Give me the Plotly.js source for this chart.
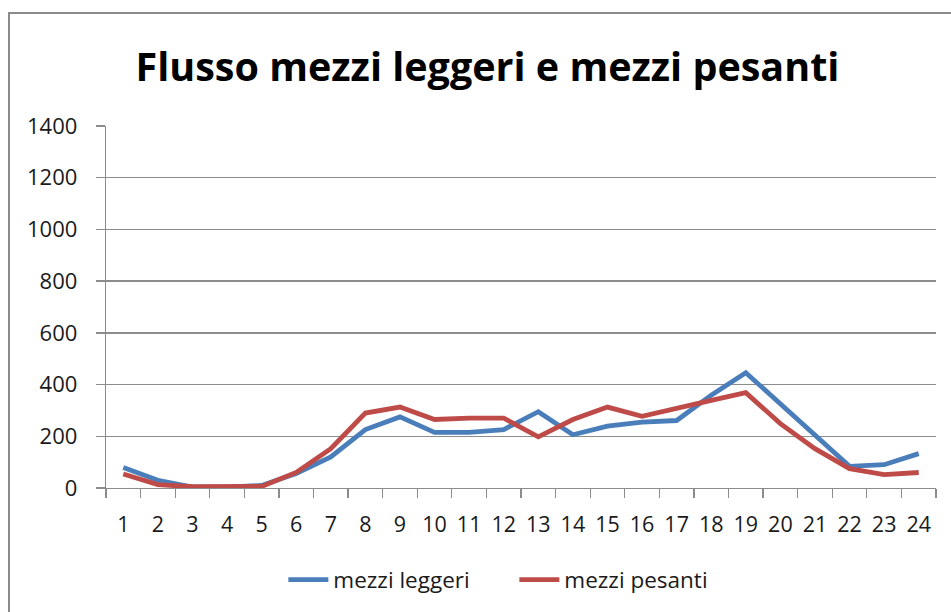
<!DOCTYPE html>
<html>
<head>
<meta charset="utf-8">
<script src="https://cdn.plot.ly/plotly-3.0.1.min.js"></script>
<style>
html,body{margin:0;padding:0;background:#fff;overflow:hidden;}
#frame{position:absolute;left:8px;top:12px;width:960px;height:620px;border-top:2px solid #8a8a8a;border-left:2px solid #8a8a8a;pointer-events:none;z-index:5;}
#chart{position:absolute;left:0;top:0;width:951px;height:612px;}
</style>
</head>
<body>
<div id="chart"></div>
<div id="frame"></div>
<script>
const hours = ["1","2","3","4","5","6","7","8","9","10","11","12","13","14","15","16","17","18","19","20","21","22","23","24"];
const mezziLeggeri = [79, 30, 3, 3, 10, 56, 120, 226, 275, 215, 215, 226, 295, 206, 239, 255, 261, 359, 446, 326, 210, 84, 90, 133];
const mezziPesanti = [54, 13, 5, 5, 6, 60, 152, 290, 313, 265, 270, 270, 198, 265, 313, 277, 310, 339, 369, 249, 152, 75, 52, 60];
const seriesNames = ["mezzi leggeri", "mezzi pesanti"];
const titleText = "Flusso mezzi leggeri e mezzi pesanti";

const font = "'Open Sans', 'Noto Sans', sans-serif";
const traces = [
  {x: hours, y: mezziLeggeri, name: seriesNames[0], type: 'scatter', mode: 'lines',
   line: {color: '#4A7EBB', width: 4.8}},
  {x: hours, y: mezziPesanti, name: seriesNames[1], type: 'scatter', mode: 'lines',
   line: {color: '#BE4B48', width: 4.8}}
];
const layout = {
  width: 951, height: 612,
  margin: {l: 106, r: 15, t: 126, b: 124, autoexpand: false},
  paper_bgcolor: '#fff', plot_bgcolor: '#fff',
  font: {family: font, color: '#1a1a1a', size: 22},
  title: {text: '<b>' + titleText + '</b>', font: {family: font, size: 39.5, color: '#000'}, automargin: false,
          xref: 'paper', x: 0.4596, xanchor: 'center', yref: 'container', y: 1 - 67/612, yanchor: 'middle'},
  xaxis: {type: 'category', range: [-0.5, 23.5], tickson: 'boundaries', ticks: 'outside', ticklen: 9, tickangle: 0,
          automargin: false, ticklabelstandoff: 17,
          tickcolor: '#8c8c8c', tickwidth: 1.3, showgrid: false, showline: true, linecolor: '#8c8c8c', linewidth: 1.3,
          tickfont: {family: font, size: 21.5, color: '#1a1a1a'}, zeroline: false, fixedrange: true},
  yaxis: {range: [0, 1400], dtick: 200, tick0: 0, ticks: 'outside', ticklen: 9, tickcolor: '#8c8c8c', tickwidth: 1.3,
          automargin: false,
          showline: true, linecolor: '#8c8c8c', linewidth: 1.3, gridcolor: '#8c8c8c', gridwidth: 1.3, zeroline: false,
          ticklabelstandoff: 14, tickfont: {family: font, size: 22, color: '#1a1a1a'}, fixedrange: true},
  showlegend: true,
  legend: {orientation: 'h', x: 0.492, xanchor: 'center', y: -0.254, yanchor: 'middle', yref: 'paper',
           font: {family: font, size: 22.5, color: '#1a1a1a'}, itemwidth: 40, tracegroupgap: 0, entrywidth: 176}
};
Plotly.newPlot('chart', traces, layout, {displayModeBar: false, staticPlot: true});
</script>
</body>
</html>
